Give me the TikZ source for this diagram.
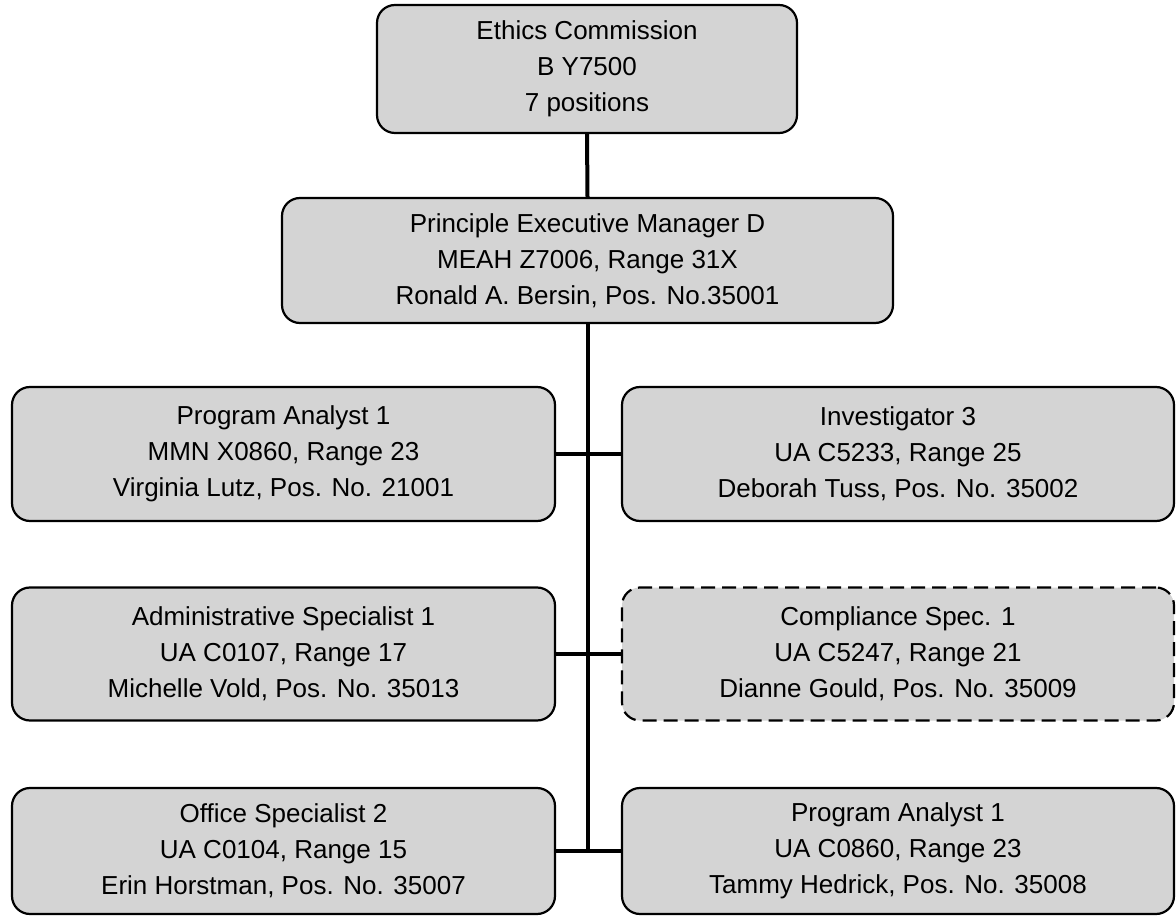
\documentclass[tikz,border=0pt]{standalone}
\usepackage{fontspec}
\setmainfont{Liberation Sans}
\begin{document}
\begin{tikzpicture}[x=1pt,y=1pt,
  box/.style={draw, line width=2.2pt, rounded corners=18pt, fill=black!17,
    align=center, inner sep=0pt, font=\fontsize{26}{36}\selectfont},
  dashbox/.style={box, dash pattern=on 14pt off 7pt},
  link/.style={line width=4pt}]
\useasboundingbox (0,0) rectangle (1176,-917);
\node[box, minimum width=420, minimum height=128] (top) at (587,-69)
  {Ethics Commission\\B Y7500\\7 positions};
\node[box, minimum width=611, minimum height=125] (pem) at (587.5,-260.5)
  {Principle Executive Manager D\\MEAH Z7006, Range 31X\\Ronald A. Bersin, Pos. No.35001};
\node[box, minimum width=543, minimum height=134] (l1) at (283.5,-454)
  {Program Analyst 1\\MMN X0860, Range 23\\Virginia Lutz, Pos. No. 21001};
\node[box, minimum width=552, minimum height=134] (r1) at (898,-454)
  {Investigator 3\\UA C5233, Range 25\\Deborah Tuss, Pos. No. 35002};
\node[box, minimum width=543, minimum height=133] (l2) at (283.5,-654)
  {Administrative Specialist 1\\UA C0107, Range 17\\Michelle Vold, Pos. No. 35013};
\node[dashbox, minimum width=552, minimum height=133] (r2) at (898,-654)
  {Compliance Spec. 1\\UA C5247, Range 21\\Dianne Gould, Pos. No. 35009};
\node[box, minimum width=543, minimum height=126] (l3) at (283.5,-851)
  {Office Specialist 2\\UA C0104, Range 15\\Erin Horstman, Pos. No. 35007};
\node[box, minimum width=552, minimum height=126] (r3) at (898,-851)
  {Program Analyst 1\\UA C0860, Range 23\\Tammy Hedrick, Pos. No. 35008};
\coordinate (sb) at (pem.south |- l3.east);
\draw[link] (top.south) -- (pem.north);
\draw[link] (pem.south) -- (sb);
\draw[link] (l1.east) -- (r1.west);
\draw[link] (l2.east) -- (r2.west);
\draw[link] (l3.east) -- (r3.west);
\end{tikzpicture}
\end{document}
